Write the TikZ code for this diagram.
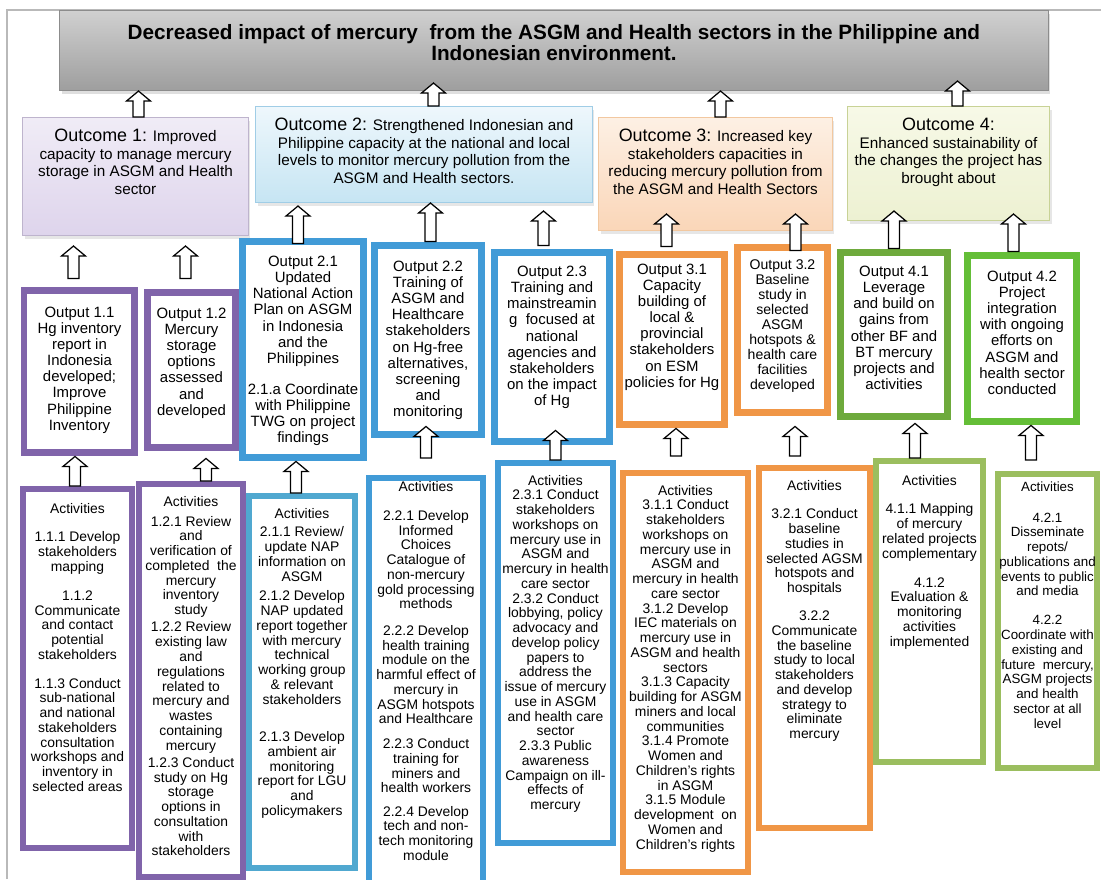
\documentclass[tikz,border=0pt]{standalone}
\usepackage{fontspec}
\setmainfont{Liberation Sans}
\usetikzlibrary{calc}
\usetikzlibrary{shadows}

\definecolor{purpleline}{RGB}{128,100,170}
\definecolor{blueline}{RGB}{65,155,215}
\definecolor{tealline}{RGB}{80,168,208}
\definecolor{orangeline}{RGB}{240,150,70}
\definecolor{greenline}{RGB}{110,170,60}
\definecolor{brightgreen}{RGB}{100,190,55}
\definecolor{oliveline}{RGB}{155,190,95}
\definecolor{goaltop}{RGB}{208,208,208}
\definecolor{goalbot}{RGB}{158,158,158}
\definecolor{goalline}{RGB}{140,140,140}
\definecolor{lavtop}{RGB}{240,236,246}
\definecolor{lavbot}{RGB}{222,212,236}
\definecolor{lavline}{RGB}{190,180,205}
\definecolor{skytop}{RGB}{238,247,252}
\definecolor{skybot}{RGB}{198,229,243}
\definecolor{skyline}{RGB}{160,205,230}
\definecolor{peachtop}{RGB}{253,240,228}
\definecolor{peachbot}{RGB}{250,214,184}
\definecolor{peachline}{RGB}{242,200,160}
\definecolor{limetop}{RGB}{247,249,231}
\definecolor{limebot}{RGB}{237,241,210}
\definecolor{limeline}{RGB}{200,210,150}

\tikzstyle{goalbox} = [rectangle, draw=goalline, line width=0.6pt, top color=goaltop, bottom color=goalbot,
inner sep=0pt, anchor=north west, font=\fontsize{11.8}{12}\selectfont\bfseries,
drop shadow={opacity=0.25, shadow xshift=0.04cm, shadow yshift=-0.06cm}]
\tikzstyle{outcome} = [rectangle, line width=0.6pt, inner sep=0pt, anchor=north west,
font=\fontsize{8.7}{10}\selectfont, drop shadow={opacity=0.2, shadow xshift=0.04cm, shadow yshift=-0.06cm}]
\tikzstyle{outputbox} = [rectangle, fill=white, line width=0.14cm, inner sep=0pt, anchor=north west,
font=\fontsize{8.5}{9.2}\selectfont]
\tikzstyle{actbox} = [rectangle, fill=white, line width=0.12cm, inner sep=0pt, anchor=north west,
font=\fontsize{7.9}{8.4}\selectfont]
\tikzstyle{hollow} = [draw=black, fill=white, line width=0.7pt, line join=miter]
\tikzstyle{pageline} = [draw=gray!55, line width=0.6pt]

\newcommand{\boxtxt}[4][8.5pt]{\parbox[t][#3][t]{#2}{\vspace*{#1}\centering #4\par}}
\newcommand{\ochead}[1]{{\fontsize{10.2}{10}\selectfont #1}}
\newcommand{\hollowarrow}[2]{%
\draw [hollow] let \p1=(#1), \p2=(#2) in
(\x1-0.11cm,\y1) -- (\x1-0.11cm,\y2-0.2cm) -- (\x1-0.24cm,\y2-0.2cm) -- (\x1,\y2)
-- (\x1+0.24cm,\y2-0.2cm) -- (\x1+0.11cm,\y2-0.2cm) -- (\x1+0.11cm,\y1) -- cycle;}

\begin{document}
\begin{tikzpicture}[x=0.02cm, y=-0.02cm]
\useasboundingbox (0,0) rectangle (1101,879);
\draw [pageline] (7,879) |- (1101,10);

\node [goalbox] (goal) at (59,10) {\boxtxt[8pt]{19.78cm}{1.6cm}{Decreased impact of mercury~ from the ASGM and Health sectors in the Philippine and\\Indonesian environment.}};

\node [outcome, draw=lavline, top color=lavtop, bottom color=lavbot] (out1) at (22,117) {\boxtxt[6.5pt]{4.52cm}{2.36cm}{\ochead{Outcome 1:} Improved\\capacity to manage mercury\\storage in ASGM and Health\\sector}};
\node [outcome, draw=skyline, top color=skytop, bottom color=skybot] (out2) at (255,106) {\boxtxt[6.5pt]{6.74cm}{1.92cm}{\ochead{Outcome 2:} Strengthened Indonesian and\\Philippine capacity at the national and local\\levels to monitor mercury pollution from the\\ASGM and Health sectors.}};
\node [outcome, draw=peachline, top color=peachtop, bottom color=peachbot] (out3) at (598,117) {\boxtxt[6.5pt]{4.68cm}{2.26cm}{\ochead{Outcome 3:} Increased key\\stakeholders capacities in\\reducing mercury pollution from\\the ASGM and Health Sectors}};
\node [outcome, draw=limeline, top color=limetop, bottom color=limebot] (out4) at (847,106) {\boxtxt[6.5pt]{4.04cm}{2.28cm}{\ochead{Outcome 4:}\\Enhanced sustainability of\\the changes the project has\\brought about}};

\node [outputbox, draw=purpleline] (op11) at (20.5,286.5) {\boxtxt[9.5pt]{2.22cm}{3.26cm}{Output 1.1\\Hg inventory\\report in\\Indonesia\\developed;\\Improve\\Philippine\\Inventory}};
\node [outputbox, draw=purpleline] (op12) at (143.5,288.5) {\boxtxt[9pt]{1.78cm}{3.12cm}{Output 1.2\\Mercury\\storage\\options\\assessed\\and\\developed}};
\node [outputbox, draw=blueline] (op21) at (238.5,237.5) {\boxtxt[8.5pt]{2.44cm}{4.34cm}{Output 2.1\\Updated\\National Action\\Plan on ASGM\\in Indonesia\\and the\\Philippines\\[8.5pt]2.1.a Coordinate\\with Philippine\\TWG on project\\findings}};
\node [outputbox, draw=blueline] (op22) at (370.5,241.5) {\boxtxt[9pt]{2.16cm}{3.8cm}{Output 2.2\\Training of\\ASGM and\\Healthcare\\stakeholders\\on Hg-free\\alternatives,\\screening\\and\\monitoring}};
\node [outputbox, draw=blueline] (op23) at (490.5,248.5) {\boxtxt[8pt]{2.32cm}{3.8cm}{Output 2.3\\Training and\\mainstreamin\\g~ focused at\\national\\agencies and\\stakeholders\\on the impact\\of Hg}};
\node [outputbox, draw=orangeline] (op31) at (615.5,250.5) {\boxtxt[5.5pt]{2.12cm}{3.42cm}{Output 3.1\\Capacity\\building of\\local \&\\provincial\\stakeholders\\on ESM\\policies for Hg}};
\node [outputbox, draw=orangeline, font=\fontsize{8}{8.5}\selectfont] (op32) at (733.5,243.5) {\boxtxt[7.5pt]{1.82cm}{3.32cm}{Output 3.2\\Baseline\\study in\\selected\\ASGM\\hotspots \&\\health care\\facilities\\developed}};
\node [outputbox, draw=greenline] (op41) at (836.5,248.5) {\boxtxt[8pt]{2.16cm}{3.3cm}{Output 4.1\\Leverage\\and build on\\gains from\\other BF and\\BT mercury\\projects and\\activities}};
\node [outputbox, draw=brightgreen] (op42) at (963.5,251.5) {\boxtxt[9pt]{2.2cm}{3.34cm}{Output 4.2\\Project\\integration\\with ongoing\\efforts on\\ASGM and\\health sector\\conducted}};

\node [actbox, draw=purpleline] (act11) at (20,486) {\boxtxt[8pt]{2.18cm}{7.18cm}{Activities\\[8pt]1.1.1 Develop\\stakeholders\\mapping\\[8pt]1.1.2\\Communicate\\and contact\\potential\\stakeholders\\[8pt]1.1.3 Conduct\\sub-national\\and national\\stakeholders\\consultation\\workshops and\\inventory in\\selected areas}};
\node [actbox, draw=purpleline] (act12) at (136,481) {\boxtxt[6.8pt]{2.08cm}{7.86cm}{Activities\\[3pt]1.2.1 Review\\and\\verification of\\completed~ the\\mercury\\inventory\\study\\[1.5pt]1.2.2 Review\\existing law\\and\\regulations\\related to\\mercury and\\wastes\\containing\\mercury\\[1.5pt]1.2.3 Conduct\\study on Hg\\storage\\options in\\consultation\\with\\stakeholders}};
\node [actbox, draw=tealline] (act21) at (246,493) {\boxtxt[6.8pt]{2.12cm}{7.44cm}{Activities\\[2.3pt]2.1.1 Review/\\update NAP\\information on\\ASGM\\[2.8pt]2.1.2 Develop\\NAP updated\\report together\\with mercury\\technical\\working group\\\& relevant\\stakeholders\\[13pt]2.1.3 Develop\\ambient air\\monitoring\\report for LGU\\and\\policymakers}};
\node [actbox, draw=blueline] (act22) at (366,475) {\boxtxt[2pt]{2.28cm}{8.34cm}{Activities\\[8pt]2.2.1 Develop\\Informed\\Choices\\Catalogue of\\non-mercury\\gold processing\\methods\\[6.6pt]2.2.2 Develop\\health training\\module on the\\harmful effect of\\mercury in\\ASGM hotspots\\and Healthcare\\[5.7pt]2.2.3 Conduct\\training for\\miners and\\health workers\\[4.8pt]2.2.4 Develop\\tech and non-\\tech monitoring\\module}};
\node [actbox, draw=blueline] (act23) at (495,460) {\boxtxt[6.8pt]{2.3cm}{7.6cm}{Activities\\2.3.1 Conduct\\stakeholders\\workshops on\\mercury use in\\ASGM and\\mercury in health\\care sector\\2.3.2 Conduct\\lobbying, policy\\advocacy and\\develop policy\\papers to\\address the\\issue of mercury\\use in ASGM\\and health care\\sector\\2.3.3 Public\\awareness\\Campaign on ill-\\effects of\\mercury}};
\node [actbox, draw=orangeline] (act31) at (620,470) {\boxtxt[6.8pt]{2.5cm}{7.98cm}{Activities\\3.1.1 Conduct\\stakeholders\\workshops on\\mercury use in\\ASGM and\\mercury in health\\care sector\\3.1.2 Develop\\IEC materials on\\mercury use in\\ASGM and health\\sectors\\3.1.3 Capacity\\building for ASGM\\miners and local\\communities\\3.1.4 Promote\\Women and\\Children's rights\\in ASGM\\3.1.5 Module\\development~ on\\Women and\\Children's rights}};
\node [actbox, draw=orangeline] (act32) at (756,465) {\boxtxt[6.8pt]{2.22cm}{7.2cm}{Activities\\[8pt]3.2.1 Conduct\\baseline\\studies in\\selected AGSM\\hotspots and\\hospitals\\[7.5pt]3.2.2\\Communicate\\the baseline\\study to local\\stakeholders\\and develop\\strategy to\\eliminate\\mercury}};
\node [actbox, draw=oliveline] (act41) at (873,458) {\boxtxt[8pt]{2.14cm}{6.02cm}{Activities\\[8pt]4.1.1 Mapping\\of mercury\\related projects\\complementary\\[8pt]4.1.2\\Evaluation \&\\monitoring\\activities\\implemented}};
\node [actbox, draw=oliveline, font=\fontsize{7.6}{8.4}\selectfont] (act42) at (995,471) {\boxtxt[4.5pt]{1.98cm}{5.88cm}{Activities\\[9pt]4.2.1\\Disseminate\\repots/\\publications and\\events to public\\and media\\[8pt]4.2.2\\Coordinate with\\existing and\\future~ mercury,\\ASGM projects\\and health\\sector at all\\level}};

\hollowarrow{[xshift=0.06cm]out1.north}{goal.south}
\hollowarrow{[xshift=0.19cm]out2.north}{[yshift=0.16cm]goal.south}
\hollowarrow{[xshift=0.1cm]out3.north}{goal.south}
\hollowarrow{[xshift=0.18cm]out4.north}{[yshift=0.2cm]goal.south}

\hollowarrow{[xshift=-0.12cm,yshift=0.16cm]op11.north}{[yshift=-0.2cm]out1.south}
\hollowarrow{[xshift=-0.12cm,yshift=0.2cm]op12.north}{[yshift=-0.2cm]out1.south}
\hollowarrow{[xshift=-0.1cm,yshift=-0.12cm]op21.north}{[yshift=-0.06cm]out2.south}
\hollowarrow{[xshift=0.05cm]op22.north}{out2.south}
\hollowarrow{[xshift=-0.17cm,yshift=0.06cm]op23.north}{[yshift=-0.16cm]out2.south}
\hollowarrow{[xshift=-0.11cm,yshift=0.08cm]op31.north}{[yshift=0.34cm]out3.south}
\hollowarrow{[xshift=0.26cm,yshift=-0.14cm]op32.north}{[yshift=0.34cm]out3.south}
\hollowarrow{op41.north}{[yshift=0.2cm]out4.south}
\hollowarrow{[xshift=-0.17cm]op42.north}{[yshift=0.14cm]out4.south}

\hollowarrow{[xshift=-0.05cm]act11.north}{op11.south}
\hollowarrow{[xshift=0.3cm]act12.north}{[yshift=-0.14cm]op12.south}
\hollowarrow{[xshift=-0.12cm]act21.north}{op21.south}
\hollowarrow{[yshift=0.34cm]act22.north}{[yshift=0.24cm]op22.south}
\hollowarrow{act23.north}{[yshift=0.3cm]op23.south}
\hollowarrow{[xshift=-0.19cm,yshift=0.28cm]act31.north}{op31.south}
\hollowarrow{[xshift=-0.39cm,yshift=0.18cm]act32.north}{[yshift=-0.2cm]op32.south}
\hollowarrow{[xshift=-0.29cm]act41.north}{[yshift=-0.06cm]op41.south}
\hollowarrow{[xshift=-0.33cm,yshift=0.22cm]act42.north}{op42.south}
\end{tikzpicture}
\end{document}
